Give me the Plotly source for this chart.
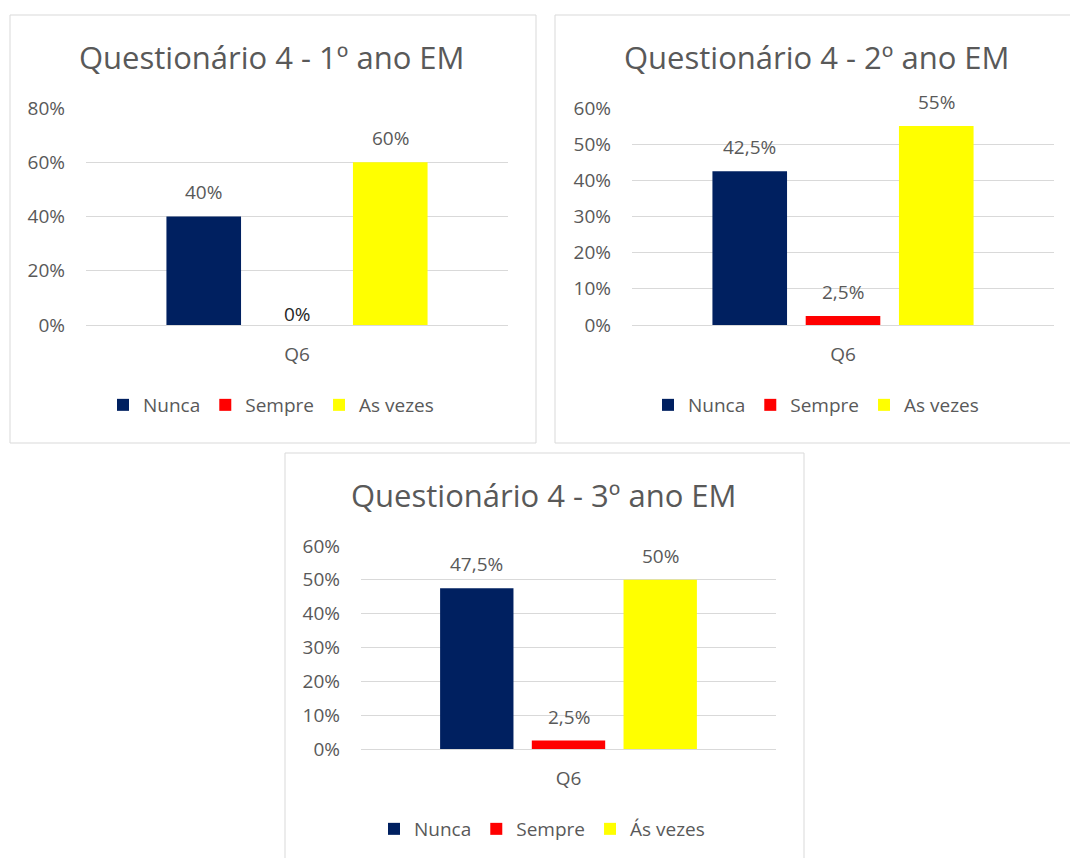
import plotly.graph_objects as go

# ---------------- data ----------------
categories = ["Q6"]
series_names_12 = ["Nunca", "Sempre", "As vezes"]
series_names_3 = ["Nunca", "Sempre", "Ás vezes"]
panel_titles = ["Questionário 4 - 1º ano EM", "Questionário 4 - 2º ano EM", "Questionário 4 - 3º ano EM"]

ano1_values = [0.40, 0.00, 0.60]
ano2_values = [0.425, 0.025, 0.55]
ano3_values = [0.475, 0.025, 0.50]

ano1_ymax, ano1_dtick = 0.8, 0.2
ano2_ymax, ano2_dtick = 0.6, 0.1
ano3_ymax, ano3_dtick = 0.6, 0.1

# ---------------- style ----------------
W, H = 1070, 858
FONT = "Open Sans"
GRAY = "#595959"
GRID = "#d9d9d9"
COLORS = ["#002060", "#FF0000", "#FFFF00"]
BARGAP = 0.337
BARGROUPGAP = 0.2


def px(x):
    return x / W


def py(y):
    return 1 - y / H


def fmt(v):
    s = f"{v * 100:.1f}"
    if s.endswith(".0"):
        s = s[:-2]
    return s.replace(".", ",") + "%"


panels = [
    dict(values=ano1_values, names=series_names_12, ymax=ano1_ymax, dtick=ano1_dtick,
         plot=(86, 508, 108, 325), box=(10, 536, 15, 443), title_xy=(271, 57),
         legend_xy=(271, 405), title=panel_titles[0]),
    dict(values=ano2_values, names=series_names_12, ymax=ano2_ymax, dtick=ano2_dtick,
         plot=(632, 1054, 108, 325), box=(555, 1082, 15, 443), title_xy=(816, 57),
         legend_xy=(816, 405), title=panel_titles[1]),
    dict(values=ano3_values, names=series_names_3, ymax=ano3_ymax, dtick=ano3_dtick,
         plot=(361, 776, 546, 749), box=(285, 804, 453, 880), title_xy=(543, 495),
         legend_xy=(542, 829), title=panel_titles[2]),
]

fig = go.Figure()
shapes = []
annotations = []
layout_extra = {}

slot = (1 - BARGAP) / 3

for p_i, p in enumerate(panels):
    n = "" if p_i == 0 else str(p_i + 1)
    xa, ya = "x" + n, "y" + n
    leg = "legend" + n
    for s_i, (name, val) in enumerate(zip(p["names"], p["values"])):
        fig.add_trace(go.Bar(
            x=categories, y=[val], name=name,
            marker=dict(color=COLORS[s_i], line=dict(width=0)),
            xaxis=xa, yaxis=ya, legend=leg,
            hovertemplate=name + ": %{y:.1%}<extra></extra>",
        ))
        zero = val == 0
        annotations.append(dict(
            x=(s_i - 1) * slot, y=val, xref=xa, yref=ya,
            text=fmt(val), showarrow=False, yanchor="middle",
            yshift=11 if zero else 24,
            font=dict(family=FONT, size=19, color="#262626" if zero else GRAY),
        ))

    x0, x1, y0, y1 = p["plot"]
    layout_extra["xaxis" + n] = dict(
        domain=[px(x0), px(x1)], anchor=ya, type="category", range=[-0.5, 0.5],
        showgrid=False, zeroline=False, showline=True, linecolor=GRID, linewidth=1,
        ticks="", tickfont=dict(family=FONT, size=19, color=GRAY),
        ticklabelstandoff=12, fixedrange=True, automargin=False,
    )
    layout_extra["yaxis" + n] = dict(
        domain=[py(y1), py(y0)], anchor=xa, range=[0, p["ymax"]], dtick=p["dtick"],
        tickformat=".0%", showgrid=True, gridcolor=GRID, gridwidth=1,
        zeroline=False, showline=False, ticks="",
        tickfont=dict(family=FONT, size=19, color=GRAY),
        ticklabelstandoff=20, fixedrange=True, automargin=False,
    )

    lx, ly = p["legend_xy"]
    layout_extra[leg] = dict(
        orientation="h", x=px(lx), y=py(ly), xanchor="center", yanchor="middle",
        font=dict(family=FONT, size=19, color=GRAY), bgcolor="rgba(0,0,0,0)",
        itemwidth=30, traceorder="normal",
    )

    bx0, bx1, by0, by1 = p["box"]
    shapes.append(dict(type="rect", xref="paper", yref="paper",
                       x0=px(bx0), x1=px(bx1), y0=py(by1), y1=py(by0),
                       line=dict(color=GRID, width=1), fillcolor="rgba(0,0,0,0)", layer="below"))

    tx, ty = p["title_xy"]
    annotations.append(dict(
        x=px(tx), y=py(ty), xref="paper", yref="paper", text=p["title"],
        showarrow=False, xanchor="center", yanchor="middle",
        font=dict(family=FONT, size=31, color=GRAY),
    ))

fig.update_layout(
    width=W, height=H, margin=dict(l=0, r=0, t=0, b=0, pad=0, autoexpand=False),
    paper_bgcolor="white", plot_bgcolor="white",
    barmode="group", bargap=BARGAP, bargroupgap=BARGROUPGAP,
    shapes=shapes, annotations=annotations, showlegend=True,
    separators=",.",
    **layout_extra,
)

fig.write_html("out.html", config={"displayModeBar": False},
               post_script="document.body.style.margin='0';")
